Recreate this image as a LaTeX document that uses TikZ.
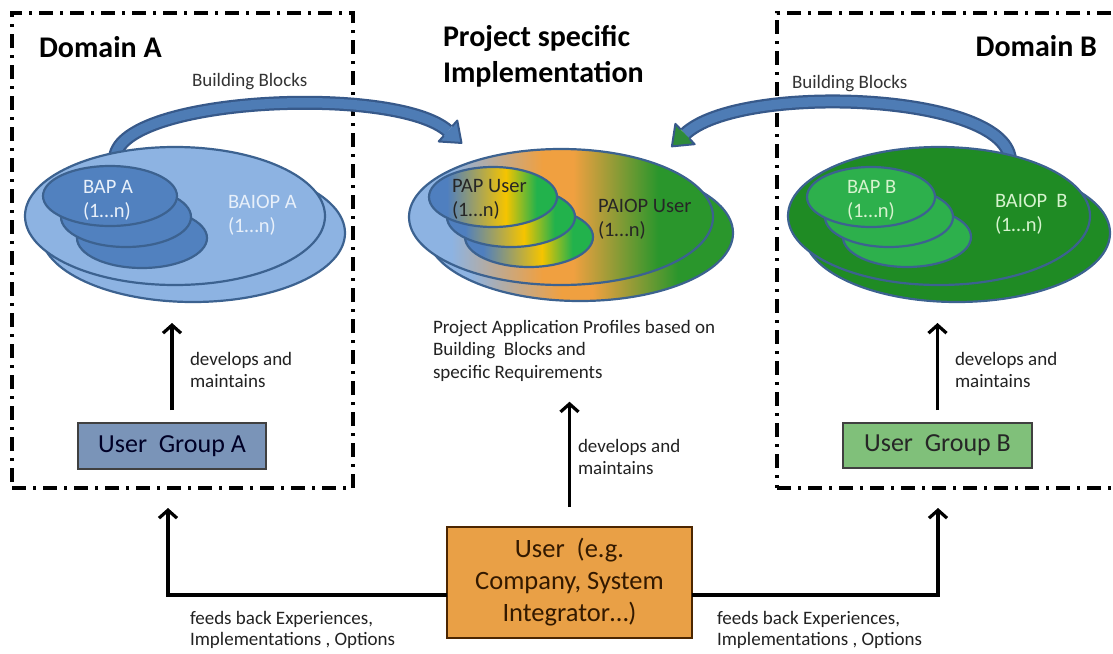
\documentclass[tikz,border=0pt]{standalone}
\usepackage{fontspec}
\setmainfont{Carlito}
\usetikzlibrary{shapes.geometric,arrows.meta,calc}
\definecolor{ellline}{HTML}{3C6290}
\definecolor{abig}{HTML}{8DB3E2}
\definecolor{asmall}{HTML}{5181BF}
\definecolor{atext}{HTML}{E8F0FA}
\definecolor{bbig}{HTML}{1F8B24}
\definecolor{bsmall}{HTML}{2DB04C}
\definecolor{btext}{HTML}{D6F3CE}
\definecolor{mixblue}{HTML}{8DB3E2}
\definecolor{mixorange}{HTML}{F0A040}
\definecolor{mixgreen}{HTML}{2A962C}
\definecolor{smblue}{HTML}{4F7FBF}
\definecolor{smyellow}{HTML}{F5C400}
\definecolor{smgreen}{HTML}{22B24C}
\definecolor{arrblue}{HTML}{4E7CB5}
\definecolor{arrdark}{HTML}{37598A}
\definecolor{arrgreen}{HTML}{2E8B3A}
\definecolor{ugafill}{HTML}{7A94B8}
\definecolor{ugbfill}{HTML}{80C07A}
\definecolor{userfill}{HTML}{E9A046}
\definecolor{txtdark}{HTML}{222222}
\pgfdeclarehorizontalshading{bigmix}{100bp}{color(0bp)=(mixblue); color(32bp)=(mixblue); color(47bp)=(mixorange); color(52bp)=(mixorange); color(66bp)=(mixgreen); color(100bp)=(mixgreen)}
\pgfdeclarehorizontalshading{smallmix}{100bp}{color(0bp)=(smblue); color(32bp)=(smblue); color(55bp)=(smyellow); color(67bp)=(smgreen); color(100bp)=(smgreen)}
\newcommand{\fsz}[2]{\fontsize{#1}{#2}\selectfont}
\newcommand{\mylines}[1]{\begin{tabular}[t]{@{}l@{}}#1\end{tabular}}
\begin{document}
\begin{tikzpicture}[x=1pt,y=-1pt,
  dombox/.style={draw=black, line width=3.3pt, dash pattern=on 14pt off 7pt on 3pt off 7pt, inner sep=0, outer sep=0, minimum height=475pt},
  ell/.style={ellipse, draw=ellline, line width=2.2pt, inner sep=0, outer sep=0},
  bigell/.style={ell, minimum width=304pt, minimum height=138pt},
  smell/.style={ell, minimum width=130pt, minimum height=60pt},
  txt/.style={inner sep=0, outer sep=0, anchor=base west, text=txtdark},
  small/.style={txt, font=\fsz{19}{22.5}},
  ellt/.style={inner sep=0, outer sep=0, anchor=base west, font=\fsz{20.5}{24}},
  title/.style={inner sep=0, outer sep=0, font=\bfseries\fsz{30}{36.5}, text=black},
  arr/.style={line width=3.2pt, -{Straight Barb[length=8pt,width=18pt]}},
  grpbox/.style={draw, line width=1.5pt, inner sep=0, outer sep=0, font=\fsz{26}{32}}
]
\useasboundingbox (0,0) rectangle (1113,653);
\fill[white] (0,0) rectangle (1113,653);
\clip (0,0) rectangle (1113,653);

% domain boxes
\node[dombox, minimum width=341pt] (DA) at (182.5,250.5) {};
\node[dombox, minimum width=348pt] (DB) at (951,250.5) {};

% titles
\node[title, anchor=base west] (tA) at (39,57) {Domain A};
\node[title, anchor=base east] (tB) at (1097,56) {Domain B};
\node[title, anchor=base west] (tP) at (443,46) {\begin{tabular}[t]{@{}l@{}}Project specific\\Implementation\end{tabular}};

% building blocks labels
\node[small, text=black!80] (bbA) at (192,86) {Building Blocks};
\node[small, text=black!80] (bbB) at (792,88) {Building Blocks};

% curved arrow A
\coordinate (la0) at (115,160);
\coordinate (la1) at (113,97);
\coordinate (la2) at (395,84);
\coordinate (la3) at (448,131);
\draw[line width=14pt, draw=arrdark] (la0) .. controls (la1) and (la2) .. (la3);
\draw[line width=9.5pt, draw=arrblue] (la0) .. controls (la1) and (la2) .. (la3);
\coordinate (lh1) at ($(la3)!14pt!90:(la2)$);
\coordinate (lh2) at ($(la3)!14pt!-90:(la2)$);
\coordinate (lht) at ($(la3)!-18pt!(la2)$);
\coordinate (lb1) at ($(la3)!6.5pt!90:(la2)$);
\coordinate (lb2) at ($(la3)!6.5pt!-90:(la2)$);
\fill[arrblue] (lh1) -- (lht) -- (lh2) -- cycle;
\draw[arrdark, line width=2pt, line join=round] (lb1) -- (lh1) -- (lht) -- (lh2) -- (lb2);

% curved arrow B
\coordinate (ra0) at (1010,162);
\coordinate (ra1) at (1012,93);
\coordinate (ra2) at (740,82);
\coordinate (ra3) at (685,134);
\draw[line width=14pt, draw=arrdark] (ra0) .. controls (ra1) and (ra2) .. (ra3);
\draw[line width=9.5pt, draw=arrblue] (ra0) .. controls (ra1) and (ra2) .. (ra3);
\coordinate (rh1) at ($(ra3)!14pt!90:(ra2)$);
\coordinate (rh2) at ($(ra3)!14pt!-90:(ra2)$);
\coordinate (rht) at ($(ra3)!-18pt!(ra2)$);
\coordinate (rb1) at ($(ra3)!6.5pt!90:(ra2)$);
\coordinate (rb2) at ($(ra3)!6.5pt!-90:(ra2)$);
\fill[arrgreen] (rh1) -- (rht) -- (rh2) -- cycle;
\draw[arrdark, line width=2pt, line join=round] (rb1) -- (rh1) -- (rht) -- (rh2) -- (rb2);

% ellipses A
\node[bigell, fill=abig] (Aback) at (193,233) {};
\node[bigell, fill=abig, minimum width=300pt] (Afront) at (175,216) {};
\node[smell, fill=asmall] (As3) at (142,238) {};
\node[smell, fill=asmall] (As2) at (126,217) {};
\node[smell, fill=asmall, minimum width=134pt] (As1) at (110,196) {};
\node[ellt, text=atext] (tBAPA) at (83,193) {\mylines{BAP A\\(1…n)}};
\node[ellt, text=atext] (tBAIOPA) at (228,208) {\mylines{BAIOP A\\(1…n)}};

% ellipses middle
\node[bigell, shade, shading=bigmix, minimum width=306pt, minimum height=136pt] (Mback) at (580,233) {};
\node[bigell, shade, shading=bigmix, minimum height=136pt] (Mfront) at (561,217) {};
\node[smell, shade, shading=smallmix, minimum width=128pt] (Ms3) at (529,237) {};
\node[smell, shade, shading=smallmix, minimum width=128pt] (Ms2) at (511,217) {};
\node[smell, shade, shading=smallmix, minimum width=128pt] (Ms1) at (493,197) {};
\node[ellt, text=black!85] (tPAP) at (452,192) {\mylines{PAP User\\(1…n)}};
\node[ellt, text=black!85] (tPAIOP) at (598,212) {\mylines{PAIOP User\\(1…n)}};

% ellipses B
\node[bigell, fill=bbig, minimum width=306pt] (Bback) at (957,233) {};
\node[bigell, fill=bbig, minimum width=302pt] (Bfront) at (939,216) {};
\node[smell, fill=bsmall, minimum width=128pt] (Bs3) at (907,237) {};
\node[smell, fill=bsmall, minimum width=128pt] (Bs2) at (889,217) {};
\node[smell, fill=bsmall, minimum width=128pt] (Bs1) at (871,197) {};
\node[ellt, text=btext] (tBAPB) at (847,193) {\mylines{BAP B\\(1…n)}};
\node[ellt, text=btext] (tBAIOPB) at (995,207) {\mylines{BAIOP~~B\\(1…n)}};

% texts
\node[small] (prof) at (433,333) {\mylines{Project Application Profiles based on\\Building~ Blocks and\\specific Requirements}};
\node[small] (devA) at (190,365) {\mylines{develops and\\maintains}};
\node[small] (devM) at (578,452) {\mylines{develops and\\maintains}};
\node[small] (devB) at (955,365) {\mylines{develops and\\maintains}};
\node[small, font=\fsz{19}{21}] (feA) at (190,624.5) {\mylines{feeds back Experiences,\\Implementations , Options}};
\node[small, font=\fsz{19}{21}] (feB) at (717,624.5) {\mylines{feeds back Experiences,\\Implementations , Options}};

% boxes
\node[grpbox, fill=ugafill, draw=black!75, text=black!85!blue, minimum width=188pt, minimum height=46pt] (UGA) at (172,446) {User~~Group A};
\node[grpbox, fill=ugbfill, draw=black!75, text=black!85, minimum width=189pt, minimum height=45pt] (UGB) at (937.5,445.5) {User~~Group B};
\node[grpbox, fill=userfill, draw=black!70!orange, text=black!80!orange, minimum width=245pt, minimum height=111pt, align=center, font=\fsz{26.5}{32}] (User) at (569.5,582.5) {User~~(e.g.\\Company, System\\Integrator…)};

% arrows
\draw[arr, shorten <=13pt, shorten >=21pt] (UGA.north) -- (UGA.north |- Aback.south);
\draw[arr, shorten <=13pt, shorten >=21pt] (UGB.north) -- (UGB.north |- Bback.south);
\draw[arr, shorten <=20pt, shorten >=17pt] (User.north) -- (User.north |- prof.south);
\coordinate (fa) at (168,488);
\coordinate (fb) at (938,488);
\draw[arr, shorten >=20pt] ([yshift=-12.5pt]User.west) -| (fa);
\draw[arr, shorten >=20pt] ([yshift=-12.5pt]User.east) -| (fb);
\end{tikzpicture}
\end{document}
